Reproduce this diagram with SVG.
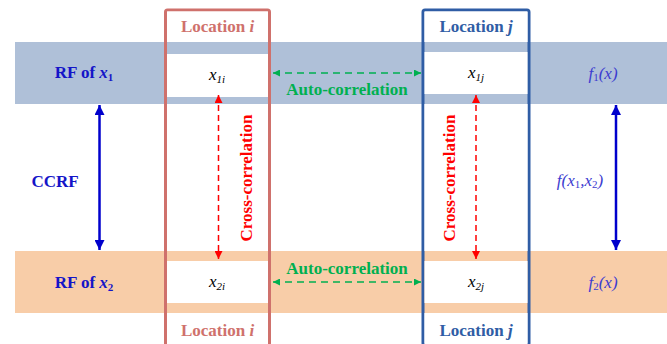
<svg xmlns="http://www.w3.org/2000/svg" width="667" height="344" viewBox="0 0 667 344">
<defs>
<style>
.lbl{font-family:"Liberation Serif","Times New Roman",serif;font-weight:bold;font-size:17px;text-anchor:middle}
.math{font-family:"Liberation Serif","Times New Roman",serif;font-style:italic;font-size:17px;text-anchor:middle}
.sub{font-size:11px}
.blue{fill:#1414C8}
.fn{fill:#3C3CD0}
.green{fill:#00B050}
.red{fill:#FF0000}
.auto{stroke:#00B050;stroke-width:1.5;stroke-dasharray:7 5;fill:none}
.cross{stroke:#FF0000;stroke-width:1.5;stroke-dasharray:6 4;fill:none}
.dbl{stroke:#0000CC;stroke-width:2.5;fill:none}
</style>
<marker id="ag" viewBox="0 0 10 10" refX="10" refY="5" markerWidth="7" markerHeight="7" markerUnits="userSpaceOnUse" orient="auto-start-reverse"><path d="M0,0L10,5L0,10z" fill="#00B050"/></marker>
<marker id="ar" viewBox="0 0 10 10" refX="10" refY="5" markerWidth="8" markerHeight="8" markerUnits="userSpaceOnUse" orient="auto-start-reverse"><path d="M0,0L10,5L0,10z" fill="#FF0000"/></marker>
<marker id="ab" viewBox="0 0 10 10" refX="10" refY="5" markerWidth="10" markerHeight="10" markerUnits="userSpaceOnUse" orient="auto-start-reverse"><path d="M0,0L10,5L0,10z" fill="#0000CC"/></marker>
</defs>
<rect width="667" height="344" fill="#FFFFFF"/>
<g id="bands">
<rect x="15" y="42" width="652" height="62" fill="#AFC0D8"/>
<rect x="15" y="251" width="652" height="62" fill="#F8CDA8"/>
</g>
<g id="location-i">
<rect x="165.5" y="10" width="104" height="335" rx="2" fill="none" stroke="#CF716C" stroke-width="3"/>
<rect x="167" y="11.5" width="101" height="30.5" fill="#FFFFFF"/>
<rect x="167" y="54" width="101" height="43" fill="#FFFFFF"/>
<rect x="167" y="104" width="101" height="147" fill="#FFFFFF"/>
<rect x="167" y="261" width="101" height="42" fill="#FFFFFF"/>
<rect x="167" y="313" width="101" height="31" fill="#FFFFFF"/>
<text class="lbl" x="217.5" y="31.5" fill="#CF716C" font-size="18">Location <tspan font-style="italic">i</tspan></text>
<text class="lbl" x="217.5" y="335.5" fill="#CF716C" font-size="18">Location <tspan font-style="italic">i</tspan></text>
</g>
<g id="location-j">
<rect x="423" y="10" width="106" height="335" rx="2" fill="none" stroke="#2F5DA5" stroke-width="3"/>
<rect x="424.5" y="11.5" width="103" height="30.5" fill="#FFFFFF"/>
<rect x="424.5" y="52" width="103" height="42" fill="#FFFFFF"/>
<rect x="424.5" y="104" width="103" height="147" fill="#FFFFFF"/>
<rect x="424.5" y="261" width="103" height="42" fill="#FFFFFF"/>
<rect x="424.5" y="313" width="103" height="31" fill="#FFFFFF"/>
<text class="lbl" x="476" y="31.5" fill="#2F5DA5" font-size="18">Location <tspan font-style="italic">j</tspan></text>
<text class="lbl" x="476" y="335.5" fill="#2F5DA5" font-size="18">Location <tspan font-style="italic">j</tspan></text>
</g>
<g id="rf-x1">
<text class="lbl blue" x="84" y="78">RF of <tspan font-style="italic">x</tspan><tspan class="sub" dy="3">1</tspan></text>
</g>
<g id="rf-x2">
<text class="lbl blue" x="84" y="288">RF of <tspan font-style="italic">x</tspan><tspan class="sub" dy="3">2</tspan></text>
</g>
<g id="ccrf">
<text class="lbl blue" x="55" y="187">CCRF</text>
</g>
<g id="x1i"><text class="math" x="217" y="80" fill="#000">x<tspan class="sub" dy="3">1<tspan>i</tspan></tspan></text></g>
<g id="x1j"><text class="math" x="476" y="78" fill="#000">x<tspan class="sub" dy="3">1<tspan>j</tspan></tspan></text></g>
<g id="x2i"><text class="math" x="217" y="287" fill="#000">x<tspan class="sub" dy="3">2<tspan>i</tspan></tspan></text></g>
<g id="x2j"><text class="math" x="476" y="287" fill="#000">x<tspan class="sub" dy="3">2<tspan>j</tspan></tspan></text></g>
<g id="f1"><text class="math fn" x="603" y="79">f<tspan class="sub" font-style="normal" dy="2">1</tspan><tspan dy="-2">(x)</tspan></text></g>
<g id="f2"><text class="math fn" x="603" y="288">f<tspan class="sub" font-style="normal" dy="2">2</tspan><tspan dy="-2">(x)</tspan></text></g>
<g id="fx1x2"><text class="math fn" x="580" y="186">f(x<tspan class="sub" font-style="normal" dy="2">1</tspan><tspan dy="-2">,x</tspan><tspan class="sub" font-style="normal" dy="2">2</tspan><tspan dy="-2">)</tspan></text></g>
<g id="connectors">
<line class="auto" x1="273" y1="73" x2="421" y2="73" marker-start="url(#ag)" marker-end="url(#ag)"/>
<line class="auto" x1="273" y1="282" x2="421" y2="282" marker-start="url(#ag)" marker-end="url(#ag)"/>
<line class="cross" x1="218.5" y1="95" x2="218.5" y2="259" marker-start="url(#ar)" marker-end="url(#ar)"/>
<line class="cross" x1="476" y1="95" x2="476" y2="259" marker-start="url(#ar)" marker-end="url(#ar)"/>
<line class="dbl" x1="99.5" y1="105" x2="99.5" y2="250" marker-start="url(#ab)" marker-end="url(#ab)"/>
<line class="dbl" x1="616" y1="105" x2="616" y2="250" marker-start="url(#ab)" marker-end="url(#ab)"/>
<text class="lbl green" x="347" y="95">Auto-correlation</text>
<text class="lbl green" x="347" y="274">Auto-correlation</text>
<text class="lbl red" transform="translate(252,178) rotate(-90)">Cross-correlation</text>
<text class="lbl red" transform="translate(455,178) rotate(-90)">Cross-correlation</text>
</g>
</svg>
